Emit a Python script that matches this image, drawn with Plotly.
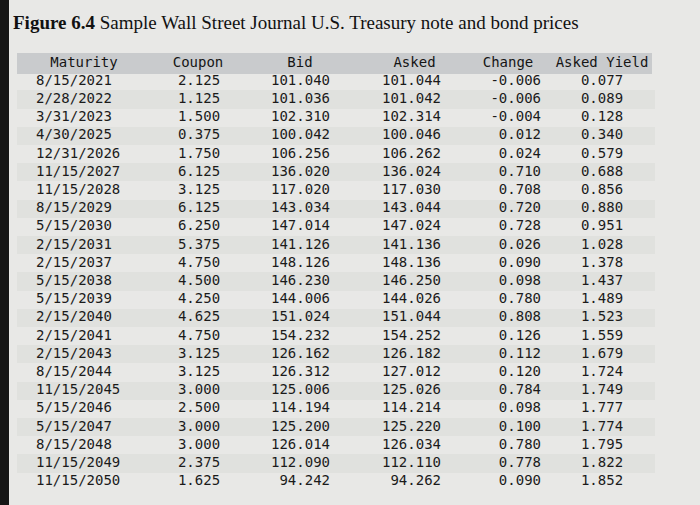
import plotly.graph_objects as go

maturity = ["8/15/2021", "2/28/2022", "3/31/2023", "4/30/2025", "12/31/2026", "11/15/2027",
            "11/15/2028", "8/15/2029", "5/15/2030", "2/15/2031", "2/15/2037", "5/15/2038",
            "5/15/2039", "2/15/2040", "2/15/2041", "2/15/2043", "8/15/2044", "11/15/2045",
            "5/15/2046", "5/15/2047", "8/15/2048", "11/15/2049", "11/15/2050"]
coupon = [2.125, 1.125, 1.500, 0.375, 1.750, 6.125, 3.125, 6.125, 6.250, 5.375, 4.750, 4.500,
          4.250, 4.625, 4.750, 3.125, 3.125, 3.000, 2.500, 3.000, 3.000, 2.375, 1.625]
bid = [101.040, 101.036, 102.310, 100.042, 106.256, 136.020, 117.020, 143.034, 147.014, 141.126,
       148.126, 146.230, 144.006, 151.024, 154.232, 126.162, 126.312, 125.006, 114.194, 125.200,
       126.014, 112.090, 94.242]
asked = [101.044, 101.042, 102.314, 100.046, 106.262, 136.024, 117.030, 143.044, 147.024, 141.136,
         148.136, 146.250, 144.026, 151.044, 154.252, 126.182, 127.012, 125.026, 114.214, 125.220,
         126.034, 112.110, 94.262]
change = [-0.006, -0.006, -0.004, 0.012, 0.024, 0.710, 0.708, 0.720, 0.728, 0.026, 0.090, 0.098,
          0.780, 0.808, 0.126, 0.112, 0.120, 0.784, 0.098, 0.100, 0.780, 0.778, 0.090]
asked_yield = [0.077, 0.089, 0.128, 0.340, 0.579, 0.688, 0.856, 0.880, 0.951, 1.028, 1.378, 1.437,
               1.489, 1.523, 1.559, 1.679, 1.724, 1.749, 1.777, 1.774, 1.795, 1.822, 1.852]
headers = ["Maturity", "Coupon", "Bid", "Asked", "Change", "Asked Yield"]

title_bold = "Figure 6.4"
title_rest = "Sample Wall Street Journal U.S. Treasury note and bond prices"

# ---- layout / style settings ----
W, H = 700, 505
ROW_H = 18.2          # pixels per row
FIRST_ROW_Y = 81.3    # pixel centre of first data row
TABLE_X0, TABLE_X1 = 17, 655
header_x = [84, 198, 300, 414.5, 508, 602]
col_x = [36, 199, 330, 441, 541, 602]
col_pos = ["middle right", "middle center", "middle left", "middle left", "middle left", "middle center"]
mono = "DejaVu Sans Mono, Liberation Mono, monospace"
text_col = "#1b1b1b"
light, dark, header_col = "#e8e8e6", "#e0e1de", "#c9cbcd"

fmt = lambda arr: [f"{v:.3f}" for v in arr]
columns = [maturity, fmt(coupon), fmt(bid), fmt(asked), fmt(change), fmt(asked_yield)]
n = len(maturity)
rows = list(range(n))

fig = go.Figure()

# alternating row stripes (odd rows darker)
odd = [i for i in rows if i % 2 == 1]
fig.add_trace(go.Bar(orientation="h", y=odd, x=[TABLE_X1 - TABLE_X0] * len(odd), base=TABLE_X0,
                     width=1, marker=dict(color=dark, line=dict(width=0)),
                     hoverinfo="skip", showlegend=False))
# header band
fig.add_trace(go.Bar(orientation="h", y=[-1], x=[652 - TABLE_X0], base=TABLE_X0,
                     width=1.15, marker=dict(color=header_col, line=dict(width=0)),
                     hoverinfo="skip", showlegend=False))
# header labels
fig.add_trace(go.Scatter(x=header_x, y=[-1] * len(headers), text=headers, mode="text",
                         textposition="middle center", marker=dict(size=0),
                         textfont=dict(family=mono, size=14, color="#151515"),
                         hoverinfo="skip", showlegend=False))
# body columns
for vals, cx, pos in zip(columns, col_x, col_pos):
    fig.add_trace(go.Scatter(x=[cx] * n, y=rows, text=vals, mode="text", textposition=pos,
                             marker=dict(size=0),
                             textfont=dict(family=mono, size=14, color=text_col),
                             hoverinfo="skip", showlegend=False))

# dark photo edge on the left
fig.add_shape(type="rect", xref="paper", yref="paper", layer="above",
              x0=0, x1=9 / W, y0=0, y1=1, fillcolor="#151515", line=dict(width=0))

fig.add_annotation(xref="paper", yref="paper", x=11 / W, y=1 - 22 / H,
                   xanchor="left", yanchor="middle", showarrow=False,
                   text=f"<b>{title_bold}</b> {title_rest}",
                   font=dict(family="Liberation Serif, Times New Roman, serif", size=19, color="#111"))

y_top = -FIRST_ROW_Y / ROW_H
y_bot = (H - FIRST_ROW_Y) / ROW_H
fig.update_layout(width=W, height=H, margin=dict(l=0, r=0, t=0, b=0),
                  paper_bgcolor=light, plot_bgcolor=light, barmode="overlay",
                  bargap=0, hovermode=False,
                  xaxis=dict(range=[0, W], visible=False, fixedrange=True),
                  yaxis=dict(range=[y_bot, y_top], visible=False, fixedrange=True))
fig.write_html("out.html", config={"displayModeBar": False, "staticPlot": True},
               post_script="document.body.style.margin='0';")
